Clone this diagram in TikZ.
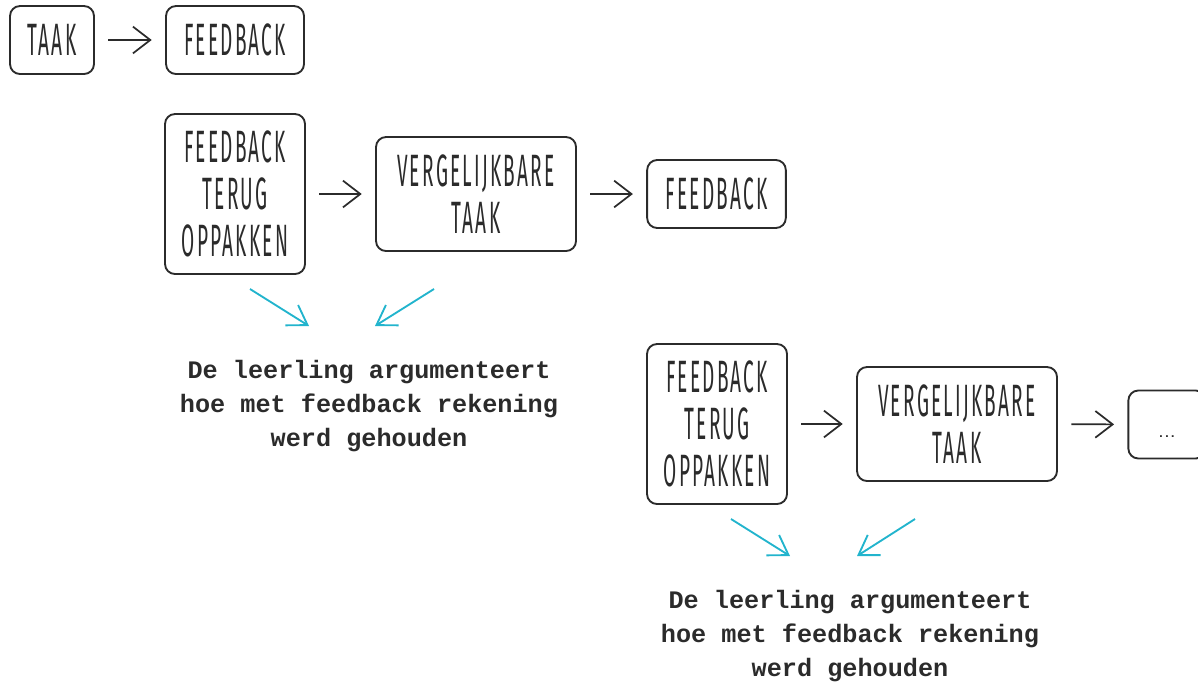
\documentclass[tikz,border=0pt]{standalone}
\usepackage{fontspec}
\usetikzlibrary{arrows.meta}
\newfontfamily\handfont[FakeStretch=0.42,LetterSpace=5]{Fira Sans}
\newfontfamily\monofont[BoldFont={Liberation Mono Bold}]{Liberation Mono}
\definecolor{ink}{HTML}{2B2B2B}
\definecolor{teal}{HTML}{22B4CD}
\tikzset{
  box/.style={draw=ink, line width=1.4pt, rounded corners=7.5pt, inner sep=0pt,
    align=center, font=\handfont\fontsize{34}{35}\selectfont, text=ink},
  flow/.style={draw=ink, line width=1.3pt, -{Straight Barb[length=13pt,width=20pt,line width=1.3pt]},
    shorten <=10pt, shorten >=10pt},
  hint/.style={draw=teal, line width=1.4pt, -{Straight Barb[length=14pt,width=18pt,line width=1.4pt]}},
  note/.style={align=center, text=ink, font=\monofont\bfseries\fontsize{18.9}{25.5}\selectfont, inner sep=0pt}
}
\begin{document}
\begin{tikzpicture}[x=0.75pt,y=-0.75pt]
\useasboundingbox (0,0) rectangle (1198,683);
% row 1
\node[box, minimum width=63pt, minimum height=51pt] (taak) at (52,40) {TAAK};
\node[box, minimum width=103.5pt, minimum height=51pt] (fb1) at (235,40) {FEEDBACK};
\draw[flow] (taak) -- (fb1);
% row 2
\node[box, minimum width=105pt, minimum height=120pt] (fto1) at (235,194) {FEEDBACK\\TERUG\\OPPAKKEN};
\node[box, minimum width=150pt, minimum height=85.5pt] (vt1) at (476,194) {VERGELIJKBARE\\TAAK};
\node[box, minimum width=104pt, minimum height=51pt] (fb2) at (716.5,194) {FEEDBACK};
\draw[flow] (fto1) -- (vt1);
\draw[flow] (vt1) -- (fb2);
\coordinate (h1s) at (250,289);
\coordinate (h1e) at (309,326);
\coordinate (h2s) at (434,289);
\coordinate (h2e) at (375,326);
\draw[hint] (h1s) -- (h1e);
\draw[hint] (h2s) -- (h2e);
\node[note] (n1) at (369,406) {De leerling argumenteert\\hoe met feedback rekening\\werd gehouden};
% row 3
\node[box, minimum width=105pt, minimum height=120pt] (fto2) at (717,424) {FEEDBACK\\TERUG\\OPPAKKEN};
\node[box, minimum width=150pt, minimum height=85.5pt] (vt2) at (957,424) {VERGELIJKBARE\\TAAK};
\node[box, minimum width=58pt, minimum height=51pt, align=none, text height=19.5pt, text depth=0pt,
  font=\sffamily\fontsize{17}{18}\selectfont] (dots) at (1167,424.5) {...};
\draw[flow] (fto2) -- (vt2);
\draw[flow] (vt2) -- (dots);
\coordinate (h3s) at (731,519);
\coordinate (h3e) at (790,556);
\coordinate (h4s) at (915,519);
\coordinate (h4e) at (857,556);
\draw[hint] (h3s) -- (h3e);
\draw[hint] (h4s) -- (h4e);
\node[note] (n2) at (850,636) {De leerling argumenteert\\hoe met feedback rekening\\werd gehouden};
\end{tikzpicture}
\end{document}
